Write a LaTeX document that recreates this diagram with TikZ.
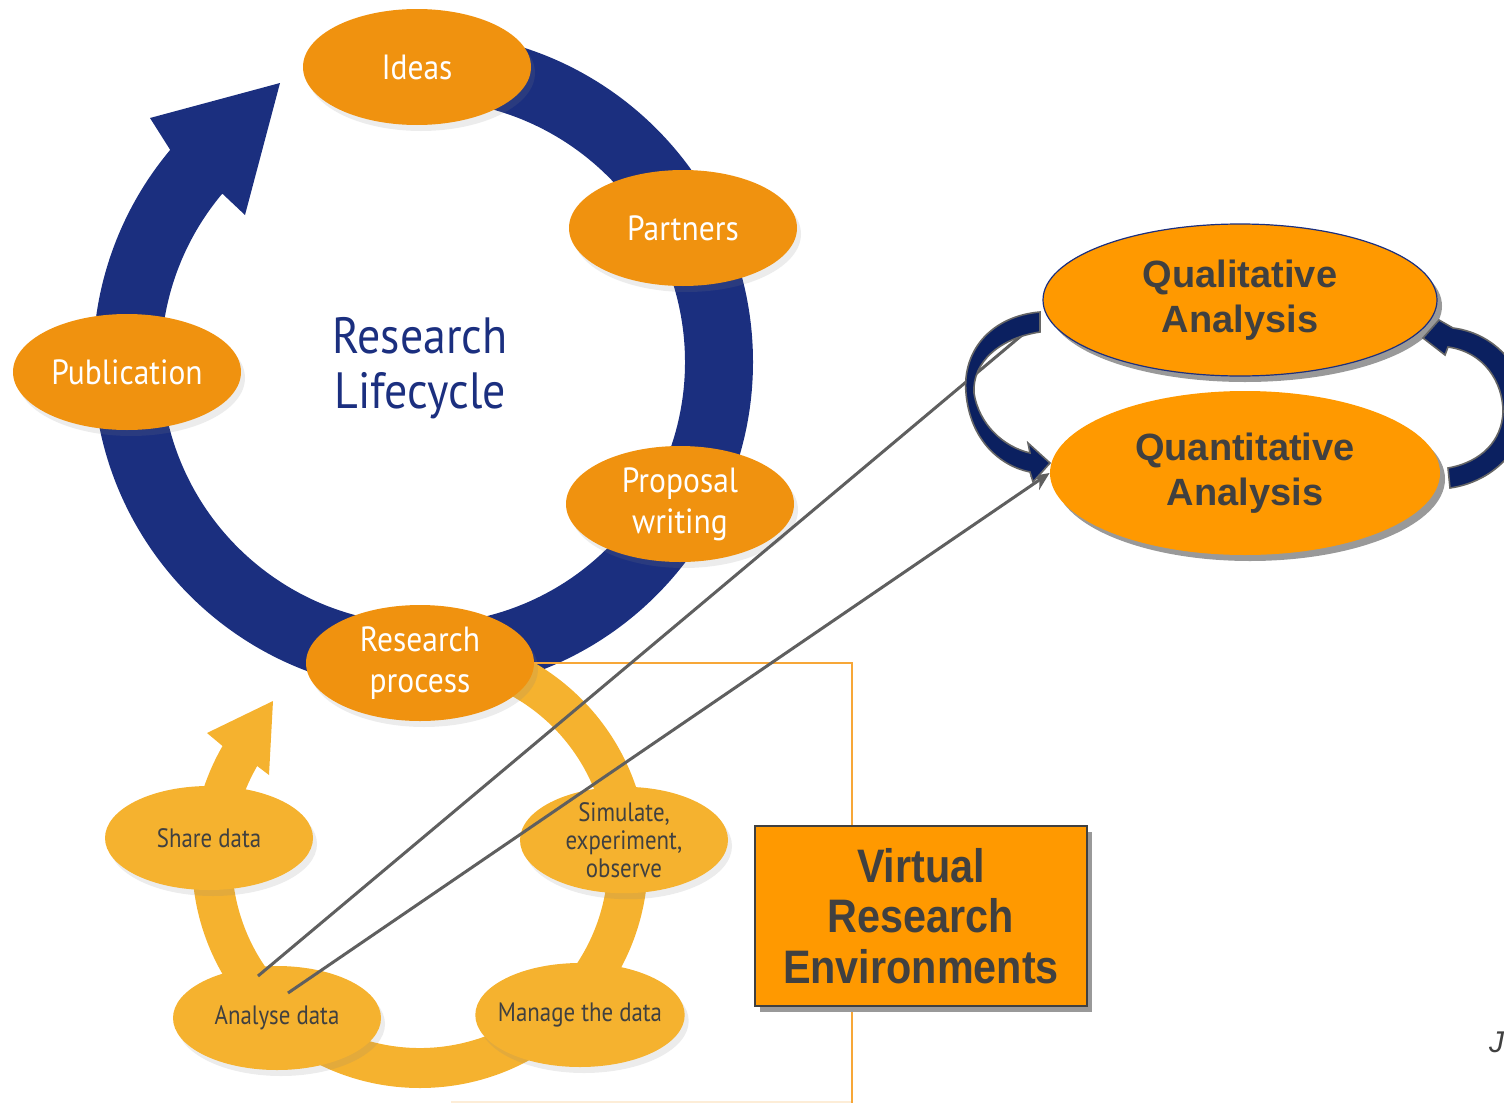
\documentclass[tikz,border=0pt]{standalone}
\usepackage{fontspec}
\setmainfont{Liberation Sans}
\newfontfamily\dinfont[FakeStretch=0.9]{PT Sans}
\newfontfamily\dinnarrow[FakeStretch=0.86]{PT Sans}
\newfontfamily\arialnarrow[FakeStretch=0.88]{Liberation Sans}
\usetikzlibrary{shapes,arrows.meta,positioning,calc,shadows}

\definecolor{lcblue}{HTML}{1B2F7F}
\definecolor{lcorange}{HTML}{F0920F}
\definecolor{rporange}{HTML}{F5B22F}
\definecolor{vreorange}{HTML}{FF9900}
\definecolor{arrownavy}{HTML}{0B2060}
\definecolor{labelgray}{HTML}{404040}
\definecolor{linegray}{HTML}{5F5F5F}
\definecolor{frameorange}{HTML}{F7A738}

\tikzset{
  cyclestep/.style={ellipse, fill=lcorange, text=white, minimum width=114pt, minimum height=58pt, inner sep=0pt, align=center, font=\dinfont\fontsize{17.5}{20.5}\selectfont, drop shadow={opacity=0.15, shadow xshift=2pt, shadow yshift=-3pt}},
  substep/.style={ellipse, fill=rporange, text=labelgray, minimum width=104pt, minimum height=52pt, inner sep=0pt, align=center, font=\dinnarrow\fontsize{13.3}{14}\selectfont, drop shadow={opacity=0.15, shadow xshift=2pt, shadow yshift=-3pt}},
  analysis/.style={ellipse, fill=vreorange, text=labelgray, inner sep=0pt, align=center, font=\bfseries\fontsize{19}{22.5}\selectfont, drop shadow={shadow xshift=2.5pt, shadow yshift=-3pt, fill=black!40, opacity=1}},
  vrebox/.style={rectangle, fill=vreorange, draw=labelgray, line width=1pt, text=labelgray, minimum width=166pt, minimum height=90pt, align=center, font=\arialnarrow\bfseries\fontsize{23.5}{25.2}\selectfont, drop shadow={shadow xshift=2.5pt, shadow yshift=-3pt, fill=black!40, opacity=1}},
  conn/.style={draw=linegray, line width=1.5pt},
  swoop/.style={fill=arrownavy, draw=black!60, line width=0.8pt},
}

\begin{document}
\begin{tikzpicture}[x=0.5pt, y=0.5pt, yscale=-1]
    \useasboundingbox (0,0) rectangle (1504,1103);
    \clip (0,0) rectangle (1504,1103);

    % research lifecycle ring
    \coordinate (lc) at (423,362);
    \fill[lcblue] ($(lc)+(270:330)$) arc[start angle=270, end angle=580, radius=330]
        -- (150,118) -- (280,83) -- (245,215)
        -- ($(lc)+(580:262)$) arc[start angle=580, end angle=270, radius=262] -- cycle;

    % research process ring
    \coordinate (rc) at (420,860);
    \fill[rporange] ($(rc)+(270:228)$) arc[start angle=270, end angle=570, radius=228]
        -- (207,733) -- (273,701) -- (269,775)
        -- ($(rc)+(570:188)$) arc[start angle=570, end angle=270, radius=188] -- cycle;

    \node[cyclestep] (ideas) at (417,67) {Ideas};
    \node[cyclestep] (partners) at (683,228) {Partners};
    \node[cyclestep] (publication) at (127,372) {Publication};
    \node[cyclestep] (proposal) at (680,504) {Proposal\\writing};
    \node[cyclestep] (process) at (420,663) {Research\\process};
    \node[text=lcblue, align=center, font=\dinfont\fontsize{25.5}{27.5}\selectfont] (lifecycle) at (420,368) {Research\\Lifecycle};

    \node[substep] (share) at (209,838) {Share data};
    \node[substep] (simulate) at (624,840) {Simulate,\\experiment,\\observe};
    \node[substep] (analyse) at (277,1018) {Analyse data};
    \node[substep, inner xsep=-4pt] (manage) at (580,1015) {Manage the data};

    \draw[frameorange, line width=0.8pt] (process.east) -| (852,1103);
    \draw[frameorange, opacity=0.2, line width=0.8pt] (451,1102) -- (852,1102);

    \node[analysis, draw=lcblue, line width=0.6pt, minimum width=197pt, minimum height=76pt] (qual) at (1240,300) {Qualitative\\Analysis};
    \node[analysis, minimum width=195pt, minimum height=82pt] (quant) at (1245,473) {Quantitative\\Analysis};

    \coordinate (anaA) at (258,976);
    \coordinate (anaB) at (288,993);
    \coordinate (qualIn) at (1034,325);
    \draw[conn] (anaA) -- (qualIn);
    \draw[conn, -{Stealth[length=9pt,width=8pt]}] (anaB) -- (quant.west);

    % curved arrows between the analyses
    \filldraw[swoop] (1040,312) .. controls (992,316) and (962,350) .. (966,393)
        .. controls (970,440) and (1000,466) .. (1030,472) -- (1033,482) -- (1050,463) -- (1028,443) -- (1030,453)
        .. controls (1004,447) and (979,425) .. (974,393)
        .. controls (972,362) and (1000,338) .. (1040,332) -- cycle;
    \filldraw[swoop] (1423,338) -- (1439,320) -- (1453,328)
        .. controls (1500,334) and (1528,375) .. (1526,412)
        .. controls (1524,450) and (1492,482) .. (1450,488) -- (1448,468)
        .. controls (1482,462) and (1502,440) .. (1503,412)
        .. controls (1503,382) and (1484,352) .. (1448,347) -- (1445,355) -- cycle;

    \node[vrebox] (vre) at (921,916) {Virtual\\Research\\Environments};

    \node[anchor=west, text=labelgray, font=\itshape\fontsize{15}{18}\selectfont] (jnote) at (1482,1042) {J};
\end{tikzpicture}
\end{document}
